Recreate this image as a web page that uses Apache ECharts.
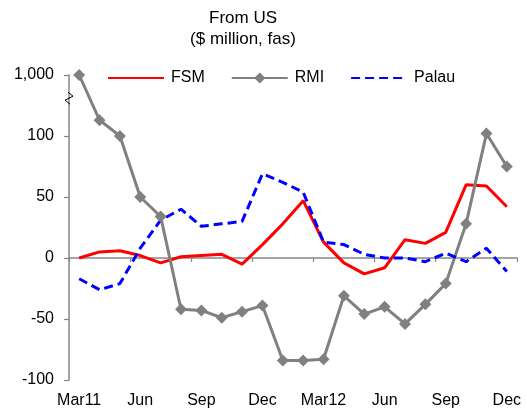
<!DOCTYPE html>
<html>
<head>
<meta charset="utf-8">
<script src="https://cdn.jsdelivr.net/npm/echarts@6/dist/echarts.min.js"></script>
<style>
  html, body { margin: 0; padding: 0; background: #fff; }
  #chart { width: 527px; height: 413px; }
</style>
</head>
<body>
<div id="chart"></div>
<script>
// Monthly transfers from the US, Mar 2011 – Dec 2012 ($ million, fas)
const months = [
  'Mar11','Apr11','May11','Jun11','Jul11','Aug11','Sep11','Oct11','Nov11','Dec11',
  'Jan12','Feb12','Mar12','Apr12','May12','Jun12','Jul12','Aug12','Sep12','Oct12','Nov12','Dec12'
];
const xTickLabels = ['Mar11', 'Jun', 'Sep', 'Dec', 'Mar12', 'Jun', 'Sep', 'Dec'];

const fsm   = [0, 5, 6, 2, -4, 1, 2, 3, -5, 11, 28, 47, 13, -4, -13, -8, 15, 12, 21, 60, 59, 42];
const rmi   = [1000, 113, 100, 50, 34, -42, -43, -49, -44, -39, -84, -84, -83, -31, -46, -40, -54, -38, -21, 28, 102, 75];
const palau = [-17, -26, -21, 8, 31, 40, 26, 28, 30, 69, 62, 54, 13, 11, 3, 0, 0, -3, 4, -3, 8, -11];

// The value axis is broken above 100: its top tick stands for 1,000.
const BROKEN_VALUE = 1000;
const AXIS_TOP = 150;
const toAxis = v => (v >= BROKEN_VALUE ? AXIS_TOP : v);
const axisLabelFor = v => (v === AXIS_TOP ? '1,000' : String(v));

const FONT = '"Liberation Sans", Arial, sans-serif';
const AXIS_GRAY = '#868686';

const chart = echarts.init(document.getElementById('chart'), null, { renderer: 'canvas' });

const grid = { left: 69, right: 10, top: 75, bottom: 33 };

// line-only legend entries hide the marker drawn on the key line
const lineOnly = { opacity: 0 };

chart.setOption({
  animation: false,
  backgroundColor: '#ffffff',
  textStyle: { fontFamily: FONT },
  grid: grid,
  legend: {
    left: 107,
    top: 70,
    padding: 0,
    itemWidth: 56,
    itemHeight: 14,
    itemGap: 26,
    textStyle: { fontFamily: FONT, fontSize: 16, color: '#000', padding: [0, 0, 0, 2] },
    data: [
      { name: 'FSM', itemStyle: lineOnly },
      { name: 'RMI' },
      { name: 'Palau', itemStyle: lineOnly }
    ]
  },
  xAxis: [
    {
      // month labels along the bottom edge
      type: 'category',
      data: months,
      boundaryGap: true,
      axisLine: { show: false, onZero: false },
      axisTick: { show: false },
      axisLabel: {
        interval: 2,
        margin: 13,
        fontSize: 16,
        color: '#000',
        fontFamily: FONT,
        formatter: (v, i) => xTickLabels[Math.round(i / 3)]
      },
      splitLine: { show: false }
    },
    {
      // zero line with quarterly ticks
      type: 'category',
      data: months,
      boundaryGap: true,
      position: 'bottom',
      axisLine: { show: true, onZero: true, lineStyle: { color: AXIS_GRAY, width: 1.5 } },
      axisTick: { show: true, interval: 2, length: 4, lineStyle: { color: AXIS_GRAY, width: 1.2 } },
      axisLabel: { show: false },
      splitLine: { show: false }
    }
  ],
  yAxis: {
    type: 'value',
    min: -100,
    max: AXIS_TOP,
    interval: 50,
    axisLine: { show: true, lineStyle: { color: AXIS_GRAY, width: 1.5 } },
    axisTick: { show: true, length: 5, lineStyle: { color: AXIS_GRAY, width: 1.2 } },
    axisLabel: { margin: 15, fontSize: 16, color: '#000', fontFamily: FONT, formatter: axisLabelFor },
    splitLine: { show: false }
  },
  series: [
    {
      name: 'FSM',
      type: 'line',
      xAxisIndex: 0,
      data: fsm.map(toAxis),
      symbol: 'none',
      clip: false,
      lineStyle: { color: '#ff0000', width: 3 },
      itemStyle: { color: '#ff0000' }
    },
    {
      name: 'RMI',
      type: 'line',
      xAxisIndex: 0,
      data: rmi.map(toAxis),
      symbol: 'diamond',
      symbolSize: 12,
      clip: false,
      lineStyle: { color: '#808080', width: 3 },
      itemStyle: { color: '#808080' }
    },
    {
      name: 'Palau',
      type: 'line',
      xAxisIndex: 0,
      data: palau.map(toAxis),
      symbol: 'none',
      clip: false,
      lineStyle: { color: '#0000ff', width: 3, type: [9, 5] },
      itemStyle: { color: '#0000ff' }
    }
  ]
});

// Title and the break mark on the value axis
const breakY = chart.convertToPixel({ yAxisIndex: 0 }, 131);
chart.setOption({
  graphic: [
    {
      type: 'text',
      x: 243,
      y: 8,
      style: {
        text: 'From US\n($ million, fas)',
        fontFamily: FONT,
        fontSize: 17,
        lineHeight: 21,
        fill: '#000',
        align: 'center',
        verticalAlign: 'top'
      }
    },
    {
      type: 'polyline',
      x: grid.left,
      y: breakY,
      shape: { points: [[-1, -6], [4, -2], [-4, 2], [1, 6]] },
      style: { stroke: '#000', lineWidth: 1, fill: null },
      z: 100
    }
  ]
});
</script>
</body>
</html>
